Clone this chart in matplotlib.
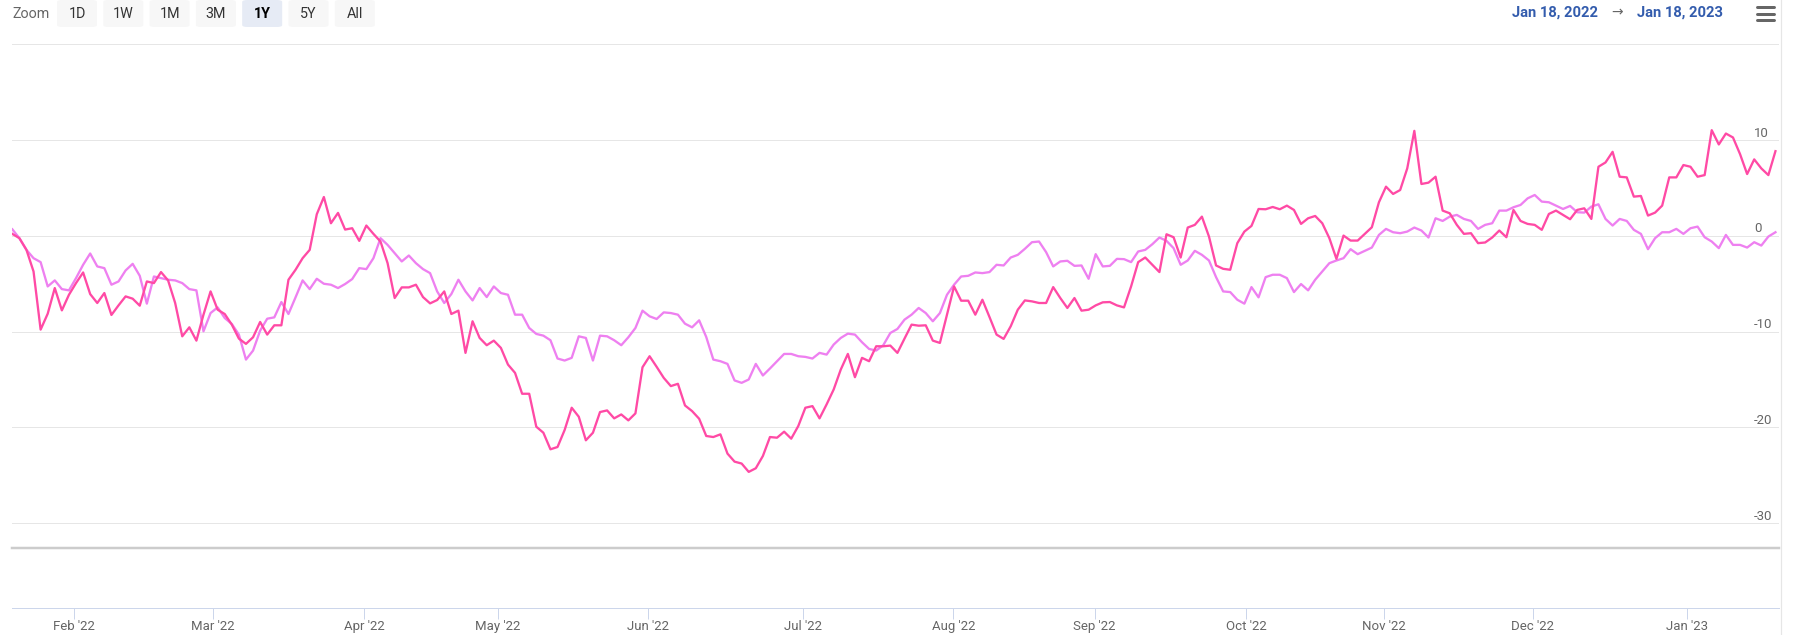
import numpy as np
import pandas as pd
import matplotlib
matplotlib.use('Agg')
import matplotlib.pyplot as plt
from matplotlib.patches import FancyBboxPatch
from matplotlib.lines import Line2D

plt.rcParams['font.family'] = ['Roboto', 'DejaVu Sans']

# Trading calendar (NSE 2022, muhurat session on Oct 24 kept)
# ------------------------------------------------------------
holidays = ['2022-01-26', '2022-03-01', '2022-03-18', '2022-04-14', '2022-04-15',
            '2022-05-03', '2022-08-09', '2022-08-15', '2022-08-31', '2022-10-05',
            '2022-10-26', '2022-11-08']
dates = pd.bdate_range('2022-01-18', '2023-01-18', freq='C', holidays=holidays)

# % change since Jan 18, 2022 - one value per trading day
# -------------------------------------------------------
pct_a = [  # hot pink series
    0.21, -0.24, -1.46, -3.72, -9.79, -8.13, -5.45, -7.78, -6.15, -4.93,
    -3.82, -6.08, -7.01, -5.97, -8.26, -7.26, -6.32, -6.56, -7.29, -4.76,
    -4.93, -3.78, -4.65, -7.01, -10.49, -9.55, -10.94, -8.23, -5.80, -7.71,
    -8.16, -9.27, -10.73, -11.28, -10.59, -8.99, -10.31, -9.34, -9.34, -4.58,
    -3.54, -2.33, -1.46, 2.26, 4.06, 1.32, 2.40, 0.66, 0.80, -0.52,
    1.08, 0.21, -0.59, -2.85, -6.49, -5.38, -5.38, -5.10, -6.39, -7.05,
    -6.70, -5.80, -8.16, -7.81, -12.22, -8.92, -10.66, -11.42, -10.94, -11.70,
    -13.44, -14.31, -16.49, -16.49, -19.93, -20.56, -22.29, -22.05, -20.28, -17.95,
    -18.89, -21.35, -20.56, -18.40,
    -18.23, -19.06, -18.65, -19.27, -18.54, -13.72, -12.57, -13.68, -14.83, -15.69,
    -15.45, -17.71, -18.30, -19.10, -20.90, -21.01, -20.73, -22.74, -23.58, -23.78,
    -24.65, -24.27, -22.99, -21.01, -21.08, -20.45, -21.18, -19.86, -17.95, -17.78,
    -19.06, -17.60, -16.04, -13.96, -12.33, -14.76, -12.74, -13.09, -11.53, -11.53,
    -11.46, -12.22, -10.73, -9.27, -9.38, -9.34, -10.94, -11.18, -8.23, -5.28,
    -6.77, -6.77, -8.23, -6.67, -8.47, -10.31, -10.76, -9.44, -7.71, -6.74,
    -6.84, -7.01, -7.01, -5.35, -6.49, -7.53, -6.49, -7.81, -7.71, -7.26,
    -6.94, -6.91, -7.26, -7.47, -5.28, -2.74, -2.26, -3.02, -3.78, 0.17,
    -0.14, -2.26, 0.87,
    1.15, 2.01, -0.07, -3.09, -3.44, -3.54, -0.76, 0.45, 1.04, 2.81,
    2.78, 3.02, 2.78, 3.16, 2.71, 1.25, 1.84, 2.08, 1.32, -0.24,
    -2.40, 0.03, -0.49, -0.49, 0.21, 0.90, 3.51, 5.14, 4.38, 4.79,
    7.05, 10.97, 5.42, 5.56, 6.18, 2.64, 2.36, 1.15, 0.21, 0.28,
    -0.76, -0.69, -0.17, 0.56, -0.14, 2.71, 1.56, 1.25, 1.15, 0.63,
    2.29, 2.64, 2.19, 1.74, 2.71, 2.88, 1.77, 7.22, 7.67, 8.78,
    6.18, 6.11, 4.10, 4.17, 2.12, 2.43, 3.16, 6.11, 6.11, 7.40,
    7.22, 6.18, 6.35, 11.04, 9.55, 10.69, 10.28, 8.54, 6.46, 7.99,
    7.05, 6.35, 8.85,
]
pct_b = [  # violet series
    0.69, -0.24, -1.46, -2.33, -2.74, -5.28, -4.65, -5.56, -5.69, -4.41,
    -3.02, -1.84, -3.19, -3.37, -5.10, -4.76, -3.61, -2.92, -4.17, -7.08,
    -4.24, -4.41, -4.58, -4.65, -4.93, -5.56, -5.69, -9.97, -8.06, -7.47,
    -8.58, -9.20, -10.31, -12.92, -11.98, -9.90, -8.65, -8.51, -6.91, -8.16,
    -6.42, -4.65, -5.56, -4.48, -5.00, -5.10, -5.45, -5.03, -4.51, -3.37,
    -3.47, -2.33, -0.24, -0.94, -1.81, -2.67, -2.05, -2.85, -3.47, -3.89,
    -5.80, -7.01, -6.08, -4.58, -5.80, -6.74, -5.45, -6.39, -5.28, -5.97,
    -6.15, -8.23, -8.23, -9.62, -10.24, -10.42, -10.90, -12.81, -13.02, -12.74,
    -10.49, -10.66, -13.02, -10.42,
    -10.49, -10.90, -11.42, -10.59, -9.62, -7.81, -8.40, -8.68, -7.99, -8.06,
    -8.23, -9.17, -9.55, -8.82, -10.56, -12.92, -13.09, -13.37, -15.10, -15.35,
    -15.00, -13.37, -14.58, -13.85, -13.09, -12.33, -12.33, -12.57, -12.64, -12.81,
    -12.22, -12.40, -11.35, -10.66, -10.21, -10.31, -11.11, -11.81, -11.98, -11.42,
    -10.14, -9.72, -8.75, -8.23, -7.53, -8.06, -8.92, -8.06, -6.15, -5.10,
    -4.24, -4.17, -3.82, -3.89, -3.78, -3.02, -3.09, -2.26, -1.98, -1.35,
    -0.66, -0.59, -1.70, -3.19, -2.67, -2.60, -3.13, -3.09, -4.48, -1.91,
    -3.19, -3.13, -2.40, -2.43, -2.74, -1.63, -1.46, -0.87, -0.17, -0.52,
    -1.28, -3.02, -2.57,
    -1.56, -1.98, -2.57, -4.31, -5.80, -5.87, -6.67, -7.08, -5.35, -6.42,
    -4.31, -4.06, -4.06, -4.41, -5.87, -5.03, -5.69, -4.58, -3.72, -2.85,
    -2.57, -2.33, -1.39, -1.91, -1.56, -1.22, 0.10, 0.73, 0.38, 0.28,
    0.45, 0.87, 0.56, -0.17, 1.84, 1.56, 2.01, 2.19, 1.77, 1.56,
    0.73, 1.15, 1.32, 2.64, 2.64, 2.99, 3.23, 3.92, 4.27, 3.58,
    3.51, 3.16, 2.81, 3.13, 2.47, 2.43, 3.06, 3.30, 1.77, 1.08,
    1.77, 1.56, 0.63, 0.21, -1.39, -0.24, 0.38, 0.38, 0.73, 0.21,
    0.80, 0.97, -0.14, -0.59, -1.28, 0.10, -0.94, -0.94, -1.22, -0.66,
    -1.01, -0.07, 0.38,
]
y_ticks = [-30, -20, -10, 0, 10, 20]
y_labels = ['-30', '-20', '-10', '0', '10']
zoom_buttons = ['1D', '1W', '1M', '3M', '1Y', '5Y', 'All']
selected_button = '1Y'
range_from, range_to = 'Jan 18, 2022', 'Jan 18, 2023'

# ordinal x axis: one slot per trading day, month ticks placed between slots
x = np.arange(len(pct_a))
month_starts = pd.date_range('2022-02-01', '2023-01-01', freq='MS')
day_nums = (dates + pd.Timedelta(hours=7)).values.astype('int64')
tick_pos = np.interp(month_starts.values.astype('int64'), day_nums, np.arange(len(dates)))
tick_labels = [d.strftime("%b '%y") for d in month_starts]

# Figure
# ------
W, H = 1801, 635
fig = plt.figure(figsize=(W / 100, H / 100), dpi=100)
px = 0.72  # one pixel in points


def fx(p):
    return p / W


def fy(p):
    return 1 - p / H


left, right = 12.3, 1779
ax = fig.add_axes([fx(left), fy(548), fx(right - left), (548 - 44.4) / H])
ax2 = fig.add_axes([fx(left), fy(608), fx(right - left), (608 - 548) / H], sharex=ax)

ax.plot(x, pct_b, color='#ee80f0', lw=2.3 * px, zorder=3)
ax.plot(x, pct_a, color='#ff4aa5', lw=2.3 * px, zorder=4)
ax.set_xlim(x[0], x[-1] + 0.5)
ax.set_ylim(-32.6, 20)
ax.set_yticks(y_ticks)
ax.grid(axis='y', color='#e6e6e6', lw=1 * px)
ax.tick_params(left=False, labelleft=False, bottom=False, labelbottom=False)
for s in ['left', 'right', 'top']:
    ax.spines[s].set_visible(False)
ax.spines['bottom'].set_color('#cccccc')
ax.spines['bottom'].set_linewidth(2.5 * px)
for lab in y_labels:
    ax.annotate(lab, xy=(1, float(lab)), xycoords=ax.get_yaxis_transform(),
                xytext=(-25 * px, 3.5 * px), textcoords='offset points',
                ha='left', va='baseline', fontsize=9.5, color='#666666')

ax2.set_yticks([])
ax2.set_xticks(tick_pos)
ax2.set_xticklabels(tick_labels)
ax2.tick_params(axis='x', length=11 * px, width=1 * px, color='#ccd6eb',
                pad=1, labelsize=9.5, labelcolor='#666666')
for s in ['left', 'right', 'top']:
    ax2.spines[s].set_visible(False)
ax2.spines['bottom'].set_color('#ccd6eb')
ax2.spines['bottom'].set_linewidth(1 * px)
ax2.patch.set_alpha(0)

# range selector bar
fig.text(fx(12.6), fy(13.5), 'Zoom', ha='left', va='center', fontsize=10.3, color='#666666')
for i, b in enumerate(zoom_buttons):
    x0 = 57 + i * 46.3
    on = b == selected_button
    fig.patches.append(FancyBboxPatch((fx(x0), fy(27)), fx(40), 27 / H,
                                      boxstyle='round,pad=0,rounding_size=0.003',
                                      transform=fig.transFigure,
                                      fc='#e6ebf5' if on else '#f7f7f7', ec='none'))
    fig.text(fx(x0 + 20), fy(13.5), b, ha='center', va='center', fontsize=10.3,
             color='#000000' if on else '#333333', fontweight='bold' if on else 'normal')

fig.text(fx(1512), fy(12.8), range_from, ha='left', va='center', fontsize=10.6,
         fontweight='bold', color='#335cad')
fig.text(fx(1617.5), fy(12.8), '→', ha='center', va='center', fontsize=10, color='#666666')
fig.text(fx(1637), fy(12.8), range_to, ha='left', va='center', fontsize=10.6,
         fontweight='bold', color='#335cad')

# export menu icon
for yy in [7.2, 13.7, 20.2]:
    fig.add_artist(Line2D([fx(1757), fx(1774)], [fy(yy), fy(yy)], transform=fig.transFigure,
                          color='#666666', lw=3 * px, solid_capstyle='round'))

# right container border
fig.add_artist(Line2D([fx(1780.5), fx(1780.5)], [0, 1], transform=fig.transFigure,
                      color='#e6e6e6', lw=1.2 * px))

fig.savefig('out.png', dpi=100, facecolor='white')
